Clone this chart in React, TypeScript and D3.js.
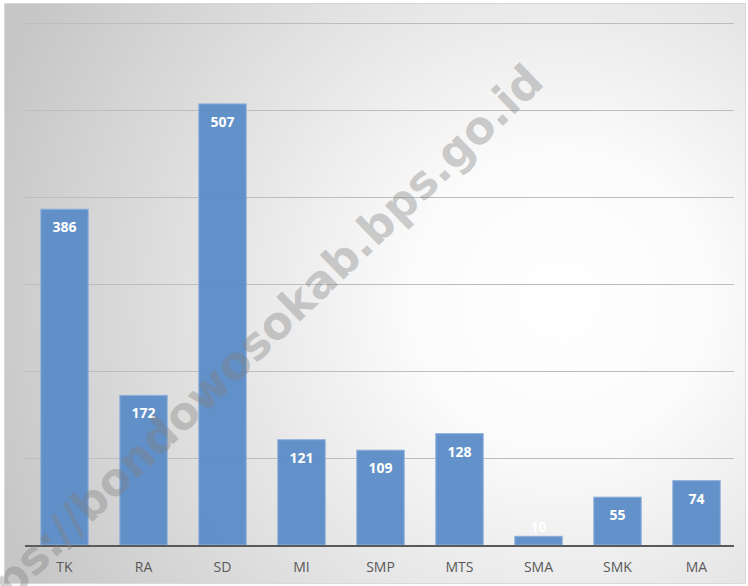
import { useEffect, useRef } from 'react';
import * as d3 from 'd3';

const categories = ['TK', 'RA', 'SD', 'MI', 'SMP', 'MTS', 'SMA', 'SMK', 'MA'];
const values = [386, 172, 507, 121, 109, 128, 10, 55, 74];
const gridTicks = [100, 200, 300, 400, 500, 600];
const watermark = 'https://bondowosokab.bps.go.id';

const W = 748;
const H = 586;

function App() {
    const svgRef = useRef<SVGSVGElement>(null);

    useEffect(() => {
        const svg = d3.select(svgRef.current);
        svg.selectAll('*').remove();

        const defs = svg.append('defs');
        const bg = defs.append('radialGradient')
            .attr('id', 'bg')
            .attr('gradientUnits', 'userSpaceOnUse')
            .attr('cx', 560)
            .attr('cy', 300)
            .attr('r', 600);
        bg.append('stop').attr('offset', '0%').attr('stop-color', '#ffffff');
        bg.append('stop').attr('offset', '25%').attr('stop-color', '#fbfbfb');
        bg.append('stop').attr('offset', '100%').attr('stop-color', '#c6c6c6');

        // chart area background + frame
        svg.append('rect')
            .attr('x', 4.5)
            .attr('y', 3.5)
            .attr('width', 741)
            .attr('height', 580)
            .attr('fill', 'url(#bg)')
            .attr('stroke', '#d9d9d9')
            .attr('stroke-width', 1);

        const x = d3.scaleBand()
            .domain(categories)
            .range([25, 736])
            .paddingInner(0.4)
            .paddingOuter(0.2);

        const y = d3.scaleLinear()
            .domain([0, 600])
            .range([545, 23]);

        // gridlines
        svg.append('g')
            .selectAll('line')
            .data(gridTicks)
            .join('line')
            .attr('x1', 25)
            .attr('x2', 734)
            .attr('y1', d => Math.round(y(d)) + 0.5)
            .attr('y2', d => Math.round(y(d)) + 0.5)
            .attr('stroke', '#bdbdbd')
            .attr('stroke-width', 1);

        // bars
        svg.append('g')
            .selectAll('rect')
            .data(values)
            .join('rect')
            .attr('x', (d, i) => x(categories[i])!)
            .attr('y', d => y(d))
            .attr('width', x.bandwidth())
            .attr('height', d => y(0) - y(d))
            .attr('fill', '#5b8bc6')
            .attr('fill-opacity', 0.95)
            .attr('stroke', '#8fb0da')
            .attr('stroke-width', 1);

        // baseline
        svg.append('line')
            .attr('x1', 25)
            .attr('x2', 734)
            .attr('y1', y(0) + 1)
            .attr('y2', y(0) + 1)
            .attr('stroke', '#595959')
            .attr('stroke-width', 2);

        // value labels
        svg.append('g')
            .selectAll('text')
            .data(values)
            .join('text')
            .attr('x', (d, i) => x(categories[i])! + x.bandwidth() / 2)
            .attr('y', d => (y(0) - y(d) > 30 ? y(d) + 23 : y(d) - 4))
            .attr('text-anchor', 'middle')
            .attr('font-family', '"Open Sans", sans-serif')
            .attr('font-weight', 'bold')
            .attr('font-size', 14)
            .attr('fill', '#ffffff')
            .text(d => d);

        // category labels
        svg.append('g')
            .selectAll('text')
            .data(categories)
            .join('text')
            .attr('x', d => x(d)! + x.bandwidth() / 2)
            .attr('y', 572)
            .attr('text-anchor', 'middle')
            .attr('font-family', '"Open Sans", sans-serif')
            .attr('font-size', 14)
            .attr('fill', '#595959')
            .text(d => d);

        // watermark
        svg.append('text')
            .attr('transform', 'translate(546,84) rotate(-44)')
            .attr('text-anchor', 'end')
            .attr('font-family', '"DejaVu Sans", sans-serif')
            .attr('font-weight', 'bold')
            .attr('font-size', 45)
            .attr('fill', '#808080')
            .attr('fill-opacity', 0.4)
            .text(watermark);
    }, []);

    return (
        <svg
            ref={svgRef}
            width={W}
            height={H}
            style={{ position: 'fixed', left: 0, top: 0, display: 'block', background: '#ffffff' }}
        />
    );
}

export default App;
